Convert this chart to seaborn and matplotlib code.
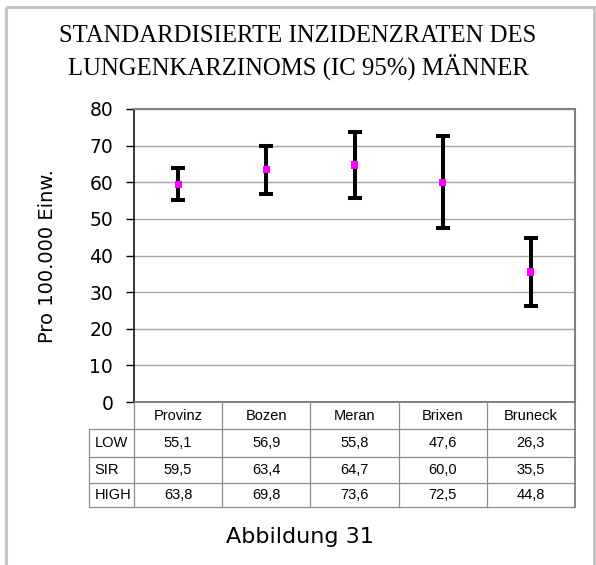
import matplotlib
matplotlib.use("Agg")
import matplotlib.pyplot as plt
import seaborn as sns
import pandas as pd
from matplotlib.transforms import Affine2D, blended_transform_factory
from matplotlib.patches import Rectangle
from matplotlib.lines import Line2D

# ---- data ----
regions = ["Provinz", "Bozen", "Meran", "Brixen", "Bruneck"]
low = [55.1, 56.9, 55.8, 47.6, 26.3]
sir = [59.5, 63.4, 64.7, 60.0, 35.5]
high = [63.8, 69.8, 73.6, 72.5, 44.8]
row_labels = ["LOW", "SIR", "HIGH"]
yticks = [0, 10, 20, 30, 40, 50, 60, 70, 80]
title = "STANDARDISIERTE INZIDENZRATEN DES\nLUNGENKARZINOMS (IC 95%) MÄNNER"
ylabel = "Pro 100.000 Einw."
caption = "Abbildung 31"

sns.set_theme(style="white")
plt.rcParams['font.family'] = ['DejaVu Sans']

W, H = 596, 565
fig = plt.figure(figsize=(W / 100, H / 100), dpi=100)
fig.patch.set_facecolor('white')
px = Affine2D().scale(1 / W, -1 / H).translate(0, 1) + fig.transFigure

L, R, T, B = 134, 575, 109, 402
ax = fig.add_axes([L / W, 1 - B / H, (R - L) / W, (B - T) / H])
ax.set_facecolor('white')

df = pd.DataFrame({"region": regions, "x": list(range(len(regions))),
                   "low": low, "sir": sir, "high": high})

ax.errorbar(df["x"], df["sir"], yerr=[df["sir"] - df["low"], df["high"] - df["sir"]],
            fmt='none', ecolor='black', elinewidth=2.9, capsize=4.7, capthick=2.9, zorder=3)
sns.scatterplot(data=df, x="x", y="sir", marker='s', s=26, color='#ff00ff',
                edgecolor='none', linewidth=0, ax=ax, zorder=4, legend=False)

ax.set_xlim(-0.5, len(regions) - 0.5)
ax.set_ylim(0, 80)
ax.set_yticks(yticks)
ax.set_xticks([])
ax.set_xlabel("")
ax.yaxis.grid(True, color='#a6a6a6', lw=1.0)
ax.set_axisbelow(True)
ax.tick_params(axis='y', direction='out', length=6, width=1, color='black',
               labelsize=13.5, pad=9, left=True, labelcolor='black')
for s in ['top', 'right']:
    ax.spines[s].set_color('#808080')
    ax.spines[s].set_linewidth(1.5)
ax.spines['left'].set_color('black')
ax.spines['left'].set_linewidth(1.1)
ax.spines['bottom'].set_color('#606060')
ax.spines['bottom'].set_linewidth(1.1)

ax.set_ylabel(ylabel, fontsize=14, color='black')
ax.yaxis.label.set_verticalalignment('center')
ax.yaxis.set_label_coords((48 - L) / (R - L), 0.497)

# ---- data table below axis ----
tr = blended_transform_factory(ax.transData, px)
n = len(regions)
label_left = -0.5 - (134 - 89) / ((R - L) / n)
row_edges = [402, 429, 457, 483, 507]
gc = '#8c8c8c'
for i, y in enumerate(row_edges[1:]):
    fig.add_artist(Line2D([label_left, n - 0.5], [y, y], transform=tr, color=gc, lw=0.9))
fig.add_artist(Line2D([label_left, label_left], [row_edges[1], row_edges[-1]], transform=tr, color=gc, lw=0.9))
for k in range(n + 1):
    fig.add_artist(Line2D([k - 0.5, k - 0.5], [row_edges[0], row_edges[-1]], transform=tr,
                          color='#808080' if k == n else gc, lw=1.3 if k == n else 0.9))

tfont = dict(family=['Liberation Sans', 'DejaVu Sans'], fontsize=10.5, color='black')
hdr_y = (row_edges[0] + row_edges[1]) / 2
for i, r in enumerate(regions):
    fig.text(i, hdr_y, r, transform=tr, ha='center', va='center', **tfont)
series = [low, sir, high]
for j, (lab, vals) in enumerate(zip(row_labels, series)):
    yc = (row_edges[j + 1] + row_edges[j + 2]) / 2
    fig.text(label_left + 0.06, yc, lab, transform=tr, ha='left', va='center', **tfont)
    for i, v in enumerate(vals):
        fig.text(i, yc, f"{v:.1f}".replace('.', ','), transform=tr,
                 ha='center', va='center', **tfont)

# ---- title, caption, frame ----
fig.text(298, 53, title, transform=px, ha='center', va='center',
         family=['Liberation Serif', 'DejaVu Serif'], fontsize=17.8, linespacing=1.36, color='black')
fig.text(300, 537, caption, transform=px, ha='center', va='center',
         fontsize=16, color='black')
fig.add_artist(Rectangle((5.5, 6.5), 588, 600, transform=px, fill=False,
                         edgecolor='#c4c4c4', lw=2.2))

fig.savefig("out.png", dpi=100, facecolor='white')
